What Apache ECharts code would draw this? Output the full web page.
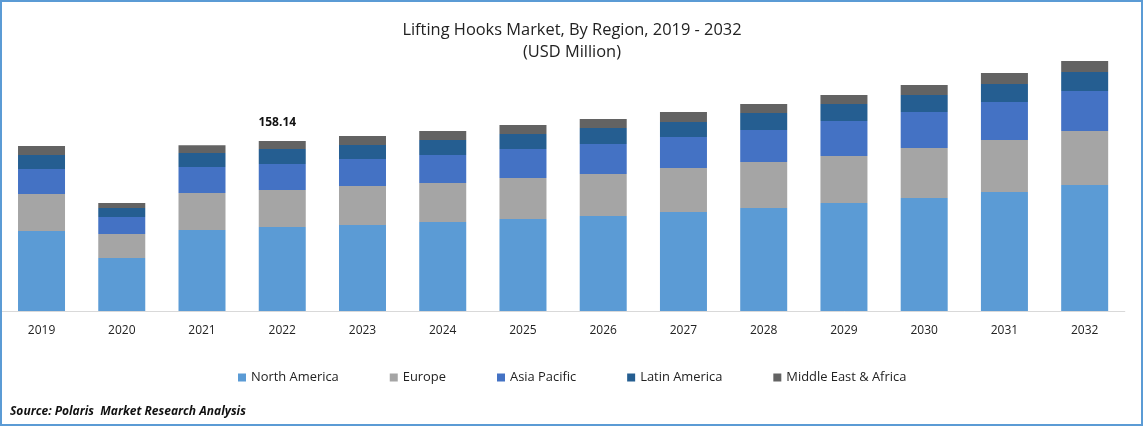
<!DOCTYPE html>
<html>
<head>
<meta charset="utf-8">
<style>
  html, body { margin: 0; padding: 0; background: #fff; }
  #chart { width: 1143px; height: 426px; }
  #frame { position: absolute; left: 0; top: 0; width: 1139px; height: 422px; border: 2px solid #5b9bd5; z-index: 10; pointer-events: none; }
</style>
<script src="https://cdn.jsdelivr.net/npm/echarts@6/dist/echarts.min.js"></script>
</head>
<body>
<div id="chart"></div>
<div id="frame"></div>
<script>
var years = ['2019', '2020', '2021', '2022', '2023', '2024', '2025', '2026', '2027', '2028', '2029', '2030', '2031', '2032'];

var northAmerica = [74.4, 49.3, 75.3, 78.14, 80.0, 82.8, 85.6, 88.4, 92.1, 95.8, 100.5, 105.1, 110.7, 117.2];
var europe = [34.4, 22.3, 34.4, 34.42, 36.3, 36.3, 38.1, 39.1, 40.9, 42.8, 43.7, 46.5, 48.4, 50.2];
var asiaPacific = [23.3, 15.8, 24.2, 24.19, 25.1, 26.0, 27.0, 27.9, 28.8, 29.8, 32.6, 33.5, 35.3, 37.2];
var latinAmerica = [13.0, 8.4, 13.0, 13.95, 13.0, 14.0, 14.0, 14.9, 14.0, 15.8, 15.8, 15.8, 16.7, 17.7];
var middleEast = [8.4, 4.7, 7.4, 7.44, 8.4, 8.4, 8.4, 8.4, 9.3, 8.4, 8.4, 9.3, 10.2, 10.2];

var fontName = '"Open Sans", "Noto Sans", sans-serif';
var chart = echarts.init(document.getElementById('chart'));

function barSeries(name, values, color) {
  return {
    name: name,
    type: 'bar',
    stack: 'total',
    barWidth: 47,
    itemStyle: { color: color },
    data: values
  };
}

var series = [
  barSeries('North America', northAmerica, '#5b9bd5'),
  barSeries('Europe', europe, '#a5a5a5'),
  barSeries('Asia Pacific', asiaPacific, '#4472c4'),
  barSeries('Latin America', latinAmerica, '#255e91'),
  barSeries('Middle East & Africa', middleEast, '#636363')
];

// only 2022 has its total printed
series[4].data = middleEast.map(function (v, i) {
  if (years[i] !== '2022') return v;
  return {
    value: v,
    label: {
      show: true,
      position: 'top',
      offset: [-5, -7],
      formatter: '158.14',
      color: '#111',
      fontFamily: fontName,
      fontWeight: 'bold',
      fontSize: 12
    }
  };
});

chart.setOption({
  backgroundColor: '#fff',
  animation: false,
  title: [{
    text: 'Lifting Hooks Market, By Region, 2019 - 2032\n(USD Million)',
    left: 567,
    top: 14,
    textAlign: 'center',
    textStyle: {
      color: '#222',
      fontFamily: fontName,
      fontWeight: 'normal',
      fontSize: 16.4,
      lineHeight: 22
    }
  }, {
    text: 'Source: Polaris  Market Research Analysis',
    left: 5,
    top: 401,
    textStyle: {
      color: '#111',
      fontFamily: fontName,
      fontWeight: 'bold',
      fontStyle: 'italic',
      fontSize: 12
    }
  }],
  legend: {
    left: 233,
    top: 366,
    icon: 'rect',
    itemWidth: 8,
    itemHeight: 8,
    itemGap: 51,
    textStyle: { color: '#222', fontFamily: fontName, fontSize: 12.9 }
  },
  grid: { left: 1.4, right: 18.2, top: 31.5, bottom: 115 },
  xAxis: {
    type: 'category',
    data: years,
    axisTick: { show: false },
    axisLine: { lineStyle: { color: '#d9d9d9', width: 1 } },
    axisLabel: { color: '#222', fontFamily: fontName, fontSize: 12, margin: 14 }
  },
  yAxis: {
    type: 'value',
    min: 0,
    max: 260,
    show: false,
    splitLine: { show: false }
  },
  series: series
});
</script>
</body>
</html>
